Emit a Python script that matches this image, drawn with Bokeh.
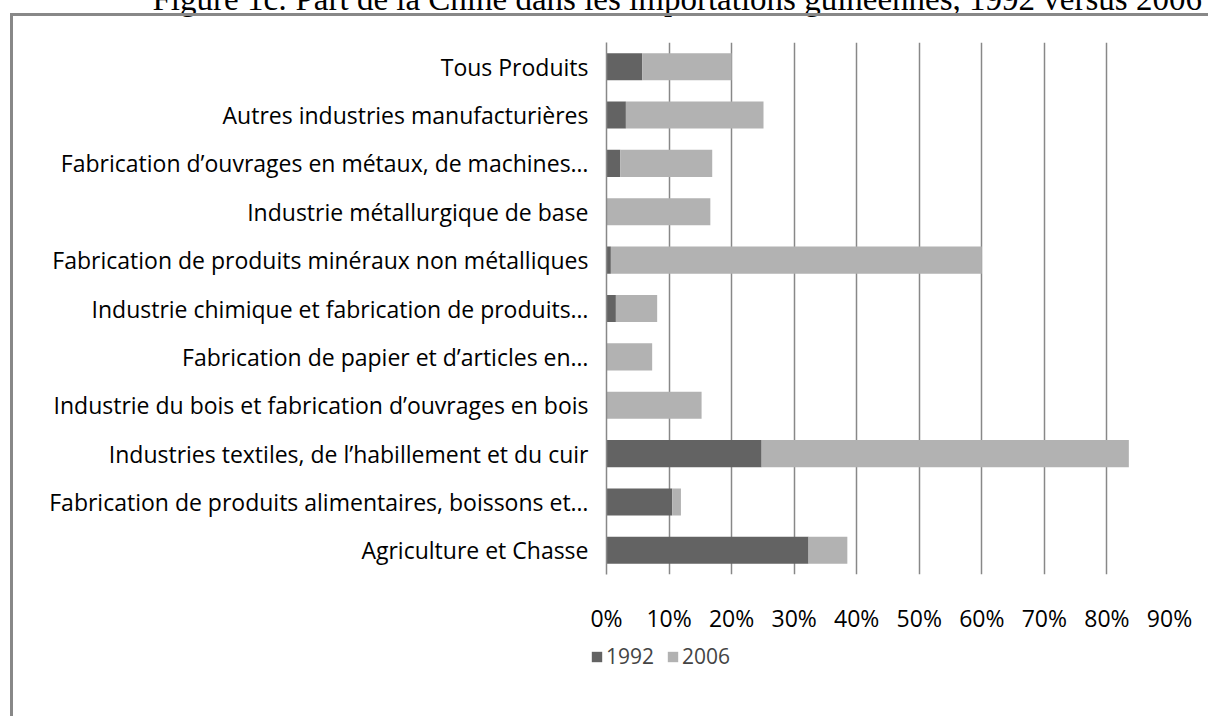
from bokeh.plotting import figure
from bokeh.models import (ColumnDataSource, FactorRange, FixedTicker, PrintfTickFormatter,
                          Legend, LegendItem)
from bokeh.embed import file_html
from bokeh.resources import INLINE

title_text = "Figure 1c: Part de la Chine dans les importations guinéennes, 1992 versus 2006"

categories = [
    "Tous Produits",
    "Autres industries manufacturières",
    "Fabrication d’ouvrages en métaux, de machines…",
    "Industrie métallurgique de base",
    "Fabrication de produits minéraux non métalliques",
    "Industrie chimique et fabrication de produits…",
    "Fabrication de papier et d’articles en…",
    "Industrie du bois et fabrication d’ouvrages en bois",
    "Industries textiles, de l’habillement et du cuir",
    "Fabrication de produits alimentaires, boissons et…",
    "Agriculture et Chasse",
]
# stacked segment values (%)
v1992 = [5.7, 3.1, 2.2, 0.0, 0.7, 1.5, 0.0, 0.0, 24.8, 10.5, 32.3]
v2006 = [14.3, 22.0, 14.7, 16.6, 59.3, 6.6, 7.3, 15.2, 58.7, 1.4, 6.2]
series = ["1992", "2006"]
colors = ["#636363", "#b2b2b2"]
x_ticks = [0, 10, 20, 30, 40, 50, 60, 70, 80, 90]

FONT = "Open Sans"
SHIFT = 50  # figure is moved up by this many px so the title is cut at the top

source = ColumnDataSource(dict(cat=categories, s1992=v1992, s2006=v2006))

p = figure(width=1208, height=716 + SHIFT, frame_width=563, frame_height=532,
           output_backend="svg", toolbar_location=None,
           y_range=FactorRange(factors=list(reversed(categories)), range_padding=0.0),
           x_range=(0, 90))
p.styles = {"position": "absolute", "left": "0px", "top": f"-{SHIFT}px"}
p.stylesheets = [
    ":host::after { content: ''; position: absolute; left: 10px; top: %dpx; right: 0px; bottom: 0px;"
    " border-left: 3px solid #888888; border-top: 3px solid #888888; pointer-events: none; }" % (13 + SHIFT)
]
p.min_border = 0
p.min_border_left = 606
p.min_border_right = 39
p.min_border_top = 42 + SHIFT
p.min_border_bottom = 142
p.outline_line_color = None
p.background_fill_color = "white"
p.border_fill_color = "white"

# title
p.title.text = title_text
p.title.text_font = "Liberation Serif"
p.title.text_font_size = "33px"
p.title.text_font_style = "normal"
p.title.text_color = "#000000"
p.title.align = "left"
p.title.offset = -454
p.title.standoff = 51
p.title.vertical_align = "bottom"

p.hbar_stack(["s1992", "s2006"], y="cat", height=0.56, color=colors,
             line_color=None, source=source)

# grid
p.ygrid.grid_line_color = None
p.xgrid.grid_line_color = "#888888"
p.xgrid.grid_line_width = 1.5
p.xgrid.ticker = FixedTicker(ticks=x_ticks)

# x axis
p.xaxis.ticker = FixedTicker(ticks=x_ticks)
p.xaxis.formatter = PrintfTickFormatter(format="%d%%")
p.xaxis.axis_line_color = None
p.xaxis.major_tick_line_color = None
p.xaxis.minor_tick_line_color = None
p.xaxis.major_label_standoff = 21
p.xaxis.major_label_text_font = FONT
p.xaxis.major_label_text_font_size = "23px"
p.xaxis.major_label_text_color = "#000000"

# y axis
p.yaxis.axis_line_color = "#888888"
p.yaxis.axis_line_width = 1.5
p.yaxis.major_tick_line_color = None
p.yaxis.minor_tick_line_color = None
p.yaxis.major_label_standoff = 12
p.yaxis.major_label_text_font = FONT
p.yaxis.major_label_text_font_size = "23px"
p.yaxis.major_label_text_color = "#000000"

# legend: a small companion figure placed under the x axis labels
lg = figure(width=150, height=30, output_backend="svg", toolbar_location=None,
            x_axis_type=None, y_axis_type=None,
            x_range=(-10, -9), y_range=FactorRange(factors=list(reversed(categories))))
lg.styles = {"position": "absolute", "left": "590px", "top": "642px"}
lg.min_border = 0
lg.outline_line_color = None
lg.background_fill_color = None
lg.border_fill_color = None
lg_renderers = lg.hbar_stack(["s1992", "s2006"], y="cat", height=0.56, color=colors,
                             line_color=None, source=source)
legend = Legend(items=[LegendItem(label=s, renderers=[r]) for s, r in zip(series, lg_renderers)],
                orientation="horizontal", location="top_left")
legend.border_line_color = None
legend.background_fill_alpha = 0
legend.glyph_width = 13
legend.glyph_height = 13
legend.label_text_font = FONT
legend.label_text_font_size = "21px"
legend.label_standoff = 3
legend.spacing = 12
legend.padding = 0
legend.margin = 0
lg.add_layout(legend, "center")

open("out.html", "w").write(file_html([p, lg], INLINE))
